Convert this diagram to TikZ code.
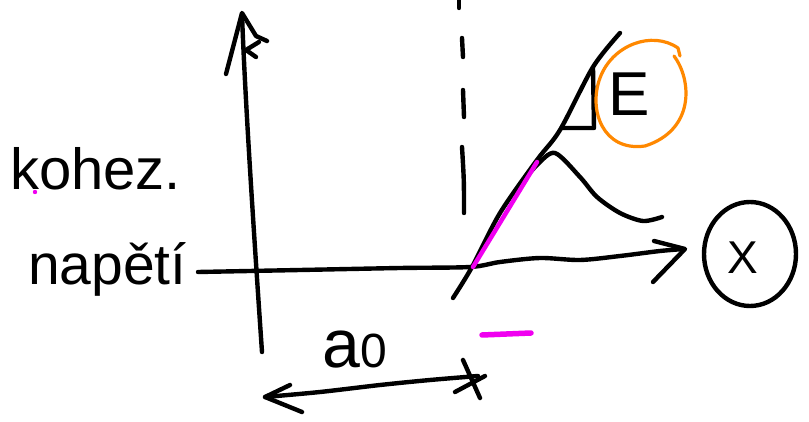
\documentclass[tikz,border=0pt]{standalone}
\usepackage{fontspec}
\setmainfont{Liberation Sans}
\definecolor{penorange}{RGB}{255,136,0}
\definecolor{penmagenta}{RGB}{240,0,240}
\begin{document}
\begin{tikzpicture}[x=1pt,y=-1pt,
  pen/.style={line width=4.4pt, line cap=round, line join=round, black},
  hl/.style={line width=4.5pt, line cap=round, line join=round, penmagenta},
  txt/.style={inner sep=0pt, anchor=base west}]
\useasboundingbox[fill=white] (0,0) rectangle (809,422);
% vertical axis
\draw[pen] (262,352) .. controls (255,250) and (245,100) .. (242,14);
\draw[pen] (226,74) -- (242,13) -- (256,36) -- (267,41);
\draw[pen] (259,42) -- (246,50) -- (256,57);
% horizontal axis
\draw[pen] plot[smooth] coordinates {(198,272) (300,270) (400,268) (470,267) (500,262) (540,258) (580,260) (620,256) (660,251) (684,249)};
\draw[pen] (654,241) -- (685,249) -- (653,282);
% dashed vertical line
\draw[pen] (459,0) -- (459,8);
\draw[pen] (462,38) -- (463,57);
\draw[pen] (463,90) -- (464,117);
\draw[pen] (462,147) .. controls (464,180) .. (464,213);
% rising line
\draw[pen] plot[smooth] coordinates {(453,298) (472,267) (500,213) (537,160) (560,130) (593,67) (620,33)};
% slope triangle
\draw[pen] (593,68) -- (594,128) -- (563,128);
% second curve
\draw[pen] plot[smooth] coordinates {(520,185) (537,165) (555,153) (580,177) (597,197) (620,213) (643,221) (662,217)};
% magenta highlight
\draw[hl] (473,267) -- (537,162);
\draw[hl, line width=5.5pt] (482,335) -- (531,333);
\fill[penmagenta] (35,192) circle (2.2);
% orange circle with E
\draw[penorange, line width=3.2pt, line cap=round, line join=round] (674,56)
  .. controls (692,80) and (695,130) .. (645,146)
  .. controls (603,152) and (588,110) .. (600,78)
  .. controls (612,45) and (652,30) .. (678,48) -- (680,56);
\node[txt] (E) at (608,116) {\fontsize{62}{62}\selectfont E};
% circled X
\draw[pen] (750,254) ellipse (46 and 52);
\node[txt] (X) at (727,273) {\fontsize{46}{46}\selectfont X};
% labels
\node[txt] (koh) at (10,190) {\fontsize{58}{58}\selectfont kohez.};
\node[txt] (nap) at (28,285) {\fontsize{57}{57}\selectfont napětí};
\node[txt] (a0) at (322,367) {\fontsize{68}{68}\selectfont a{\fontsize{48}{48}\selectfont 0}};
% dimension arrow
\draw[pen] plot[smooth] coordinates {(265,397) (320,392) (380,385) (430,380) (478,376)};
\draw[pen] (290,385) -- (265,397) -- (302,412);
\draw[pen] (463,360) -- (480,398);
\draw[pen] (455,392) -- (485,376);
\end{tikzpicture}
\end{document}
